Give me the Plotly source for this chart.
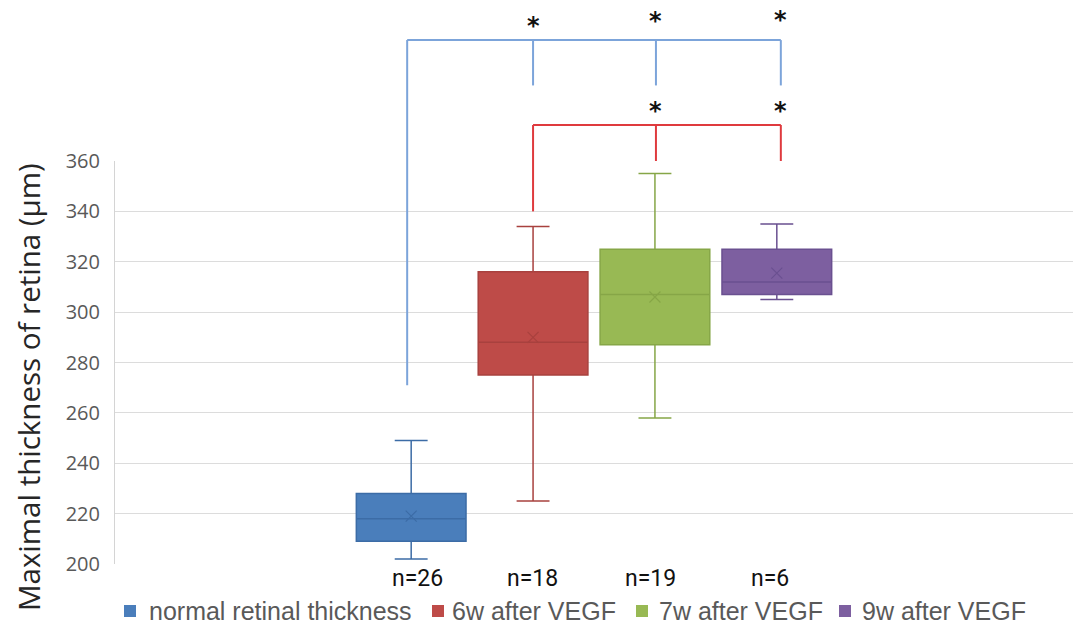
import plotly.graph_objects as go

# ---- data -------------------------------------------------------------
groups = ["normal retinal thickness", "6w after VEGF", "7w after VEGF", "9w after VEGF"]
sample_sizes = [26, 18, 19, 6]
lower_whisker = [202, 225, 258, 305]
q1 = [209, 275, 287, 307]
median = [218, 288, 307, 312]
q3 = [228, 316, 325, 325]
upper_whisker = [249, 334, 355, 335]
means = [219, 290, 306, 315.5]
tick_values = [200, 220, 240, 260, 280, 300, 320, 340, 360]

# significance brackets: reference group index -> compared group indices
comparisons = [(0, [1, 2, 3]), (1, [2, 3])]

# ---- styling ----------------------------------------------------------
fill_colors = ["#4a7ebb", "#be4b48", "#98b954", "#7d5fa0"]
line_colors = ["#3c6ca6", "#a8413e", "#86a647", "#6a5090"]
bracket_colors = ["#7ca4da", "#df3a3e"]

W, H = 1073, 625
ML, MR, MT, MB = 115, 0, 161, 61
Y0, Y1 = 200, 360
X0, X1 = -2.43, 5.43
positions = list(range(len(groups)))
# small horizontal nudges (px) of the bracket legs at each group
leg_nudge = [-4, 0, 1, 4]


def xp(x, nudge_px=0):
    """data x -> paper x (with optional pixel nudge)"""
    return (x - X0) / (X1 - X0) + nudge_px / (W - ML - MR)


def yp(v):
    """data y -> paper y"""
    return (v - Y0) / (Y1 - Y0)


def pix_x(px):
    return (px - ML) / (W - ML - MR)


def pix_y(py):
    return (H - MB - py) / (H - MT - MB)


fig = go.Figure()

for i, name in enumerate(groups):
    fig.add_trace(go.Box(
        x=[positions[i]],
        q1=[q1[i]], median=[median[i]], q3=[q3[i]],
        lowerfence=[lower_whisker[i]], upperfence=[upper_whisker[i]],
        name=name,
        width=0.9,
        whiskerwidth=0.3,
        fillcolor=fill_colors[i],
        line=dict(color=line_colors[i], width=1.5),
        boxpoints=False,
        showlegend=False,
        hoverinfo="skip",
    ))
    fig.add_trace(go.Scatter(
        x=[positions[i]], y=[means[i]],
        mode="markers",
        marker=dict(symbol="x-thin", size=11,
                    line=dict(color=line_colors[i], width=1.2)),
        showlegend=False,
        hoverinfo="skip",
    ))

shapes = []
annotations = []

# bracket geometry (data units on the y scale)
bracket_top = [408, 374.3]
bracket_ref_bottom = [271, 340]
bracket_leg_bottom = [390, 360]
star_y = [[415.3, 417.2, 417.6], [381.6, 381.6]]

for k, (ref, targets) in enumerate(comparisons):
    col = bracket_colors[k]
    line = dict(color=col, width=2)
    top = yp(bracket_top[k])
    x_ref = xp(positions[ref], leg_nudge[ref])
    x_last = xp(positions[targets[-1]], leg_nudge[targets[-1]])
    shapes.append(dict(type="line", xref="paper", yref="paper",
                       x0=x_ref, x1=x_last, y0=top, y1=top, line=line))
    shapes.append(dict(type="line", xref="paper", yref="paper",
                       x0=x_ref, x1=x_ref,
                       y0=top, y1=yp(bracket_ref_bottom[k]), line=line))
    for j, t in enumerate(targets):
        xt = xp(positions[t], leg_nudge[t])
        shapes.append(dict(type="line", xref="paper", yref="paper",
                           x0=xt, x1=xt,
                           y0=top, y1=yp(bracket_leg_bottom[k]), line=line))
        annotations.append(dict(x=xt, y=yp(star_y[k][j]),
                                xref="paper", yref="paper", text="<b>*</b>",
                                showarrow=False, xanchor="center", yanchor="middle",
                                yshift=-4,
                                font=dict(family="DejaVu Sans", size=24, color="#111111")))

# sample size labels under each box
n_shift = [6, -1, -4, -7]
for i, n in enumerate(sample_sizes):
    annotations.append(dict(x=positions[i], y=pix_y(578), xref="x", yref="paper",
                            text=f"n={n}", showarrow=False, xshift=n_shift[i],
                            xanchor="center", yanchor="middle",
                            font=dict(family="Roboto", size=23, color="#111111")))

# y-axis title
annotations.append(dict(x=pix_x(28), y=pix_y(387), xref="paper", yref="paper",
                        text="Maximal thickness of retina (μm)", textangle=-90,
                        showarrow=False, xanchor="center", yanchor="middle",
                        font=dict(family="Open Sans", size=29.5, color="#262626")))

# legend row
legend_sq_x = [124, 432, 636, 839]
legend_tx_x = [147, 450, 657, 860]
for i, name in enumerate(groups):
    shapes.append(dict(type="rect", xref="paper", yref="paper",
                       x0=pix_x(legend_sq_x[i]), x1=pix_x(legend_sq_x[i] + 12),
                       y0=pix_y(605), y1=pix_y(617),
                       fillcolor=fill_colors[i], line=dict(width=0)))
    annotations.append(dict(x=pix_x(legend_tx_x[i]), y=pix_y(611), xref="paper", yref="paper",
                            text=name, showarrow=False, xanchor="left", yanchor="middle",
                            font=dict(family="Liberation Sans", size=25, color="#595959")))

fig.update_layout(
    width=W, height=H,
    margin=dict(l=ML, r=MR, t=MT, b=MB, pad=0),
    plot_bgcolor="white", paper_bgcolor="white",
    shapes=shapes, annotations=annotations,
    boxmode="overlay",
    xaxis=dict(range=[X0, X1], showgrid=False, zeroline=False,
               showticklabels=False, showline=False, fixedrange=True),
    yaxis=dict(range=[Y0, Y1], tickvals=tick_values, showgrid=True,
               gridcolor="#dcdcdc", gridwidth=1, zeroline=False,
               showline=True, linecolor="#d4d4d4", linewidth=1,
               ticks="", ticklabelstandoff=10,
               tickfont=dict(family="Open Sans", size=20, color="#595959")),
)

fig.write_html("out.html")
